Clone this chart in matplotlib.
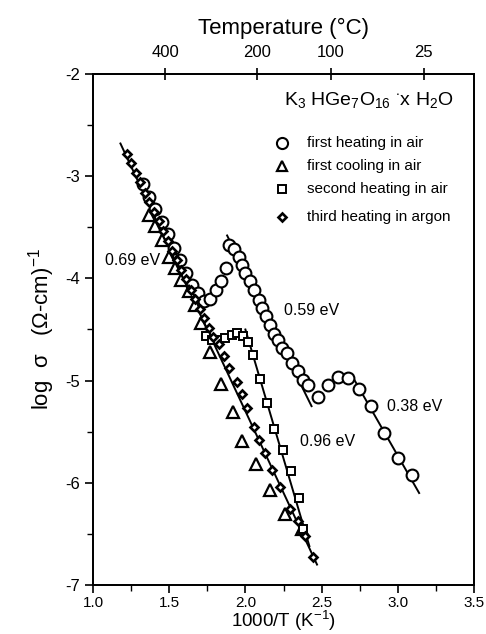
import matplotlib
matplotlib.use("Agg")
import matplotlib.pyplot as plt

plt.rcParams['font.family'] = ['Liberation Sans', 'DejaVu Sans']
plt.rcParams['mathtext.fontset'] = 'custom'
plt.rcParams['mathtext.rm'] = 'Liberation Sans'
plt.rcParams['mathtext.it'] = 'Liberation Sans:italic'

# first heating in air (circles)
heat1_x = [1.33, 1.37, 1.41, 1.45, 1.49, 1.53, 1.57, 1.61, 1.65, 1.69, 1.73, 1.77,
           1.805, 1.84, 1.87, 1.89, 1.925, 1.957, 1.979, 2.00, 2.033, 2.055, 2.087,
           2.109, 2.135, 2.163, 2.185, 2.217, 2.239, 2.271, 2.304, 2.348, 2.38, 2.413,
           2.478, 2.543, 2.608, 2.673, 2.743, 2.825, 2.908, 3.00, 3.096]
heat1_y = [-3.08, -3.20, -3.32, -3.45, -3.57, -3.70, -3.82, -3.95, -4.06, -4.14, -4.22, -4.20,
           -4.11, -4.03, -3.90, -3.67, -3.71, -3.79, -3.87, -3.95, -4.03, -4.11, -4.21,
           -4.29, -4.37, -4.46, -4.54, -4.60, -4.68, -4.73, -4.83, -4.91, -4.99, -5.04,
           -5.16, -5.04, -4.96, -4.97, -5.08, -5.25, -5.51, -5.76, -5.92]

# first cooling in air (triangles)
cool1_x = [1.37, 1.41, 1.45, 1.50, 1.54, 1.58, 1.63, 1.67, 1.71, 1.77, 1.84, 1.92,
           1.98, 2.07, 2.16, 2.26, 2.37]
cool1_y = [-3.38, -3.49, -3.62, -3.79, -3.90, -4.02, -4.12, -4.26, -4.44, -4.72, -5.03, -5.31,
           -5.59, -5.82, -6.07, -6.31, -6.45]

# second heating in air (squares)
heat2_x = [1.74, 1.78, 1.822, 1.865, 1.909, 1.946, 1.985, 2.018, 2.048, 2.098, 2.141,
           2.189, 2.246, 2.30, 2.352, 2.38]
heat2_y = [-4.56, -4.60, -4.60, -4.58, -4.55, -4.53, -4.56, -4.62, -4.75, -4.98, -5.22,
           -5.47, -5.68, -5.88, -6.15, -6.45]

# third heating in argon (diamonds)
heat3_x = [1.22, 1.25, 1.28, 1.31, 1.34, 1.37, 1.40, 1.43, 1.46, 1.49, 1.52, 1.55, 1.58,
           1.61, 1.64, 1.67, 1.70, 1.73, 1.76, 1.79, 1.827, 1.859, 1.892, 1.946, 1.979,
           2.011, 2.055, 2.087, 2.131, 2.174, 2.228, 2.293, 2.343, 2.39, 2.445]
heat3_y = [-2.78, -2.87, -2.97, -3.06, -3.16, -3.25, -3.35, -3.44, -3.54, -3.63, -3.73, -3.82, -3.92,
           -4.01, -4.11, -4.20, -4.30, -4.39, -4.49, -4.57, -4.64, -4.76, -4.88, -5.01, -5.13,
           -5.27, -5.45, -5.58, -5.71, -5.87, -6.04, -6.26, -6.37, -6.52, -6.73]

# fitted lines (end points) and activation energies
fit_labels = ['0.69 eV', '0.59 eV', '0.38 eV', '0.96 eV']
fit_x = [[1.18, 2.47], [1.88, 2.434], [2.71, 3.14], [2.0, 2.42]]
fit_y = [[-2.68, -6.80], [-3.58, -5.25], [-4.98, -6.10], [-4.50, -6.62]]
label_x = [1.08, 2.25, 2.93, 2.36]
label_y = [-3.82, -4.31, -5.25, -5.60]

top_ticks = [1.473, 2.074, 2.56, 3.17]
top_labels = ['400', '200', '100', '25']

legend_names = ['first heating in air', 'first cooling in air',
                'second heating in air', 'third heating in argon']
legend_y = [-2.675, -2.90, -3.125, -3.40]

fig = plt.figure(figsize=(4.86, 6.34), dpi=100)
ax = fig.add_axes([93/486, 1 - 585/634, 381/486, 511/634])

ms_style = dict(linestyle='none', color='black', markerfacecolor='white')
for xs, ys in zip(fit_x, fit_y):
    ax.plot(xs, ys, color='black', lw=1.4, zorder=2)
ax.plot(heat1_x, heat1_y, marker='o', ms=8.5, mew=1.5, zorder=3, **ms_style)
ax.plot(cool1_x, cool1_y, marker='^', ms=8, mew=1.6, zorder=3, **ms_style)
ax.plot(heat2_x, heat2_y, marker='s', ms=5.5, mew=1.4, zorder=4, **ms_style)
ax.plot(heat3_x, heat3_y, marker='D', ms=4.2, mew=1.9, zorder=5, **ms_style)

for t, lx, ly in zip(fit_labels, label_x, label_y):
    ax.text(lx, ly, t, fontsize=11.5, va='center', ha='left')

# legend drawn by hand, as in the original
ax.text(2.25, -2.25, r'K$_3$ HGe$_7$O$_{16}$ $^{\bullet}$x H$_2$O', fontsize=14,
        va='center', ha='left')
leg_markers = [dict(marker='o', ms=8, mew=1.5), dict(marker='^', ms=7.5, mew=1.6),
               dict(marker='s', ms=5.5, mew=1.4), dict(marker='D', ms=4.2, mew=1.9)]
for name, ly, mk in zip(legend_names, legend_y, leg_markers):
    ax.plot([2.243], [ly], **mk, **ms_style)
    ax.text(2.406, ly, name, fontsize=11, va='center', ha='left')

ax.set_xlim(1.0, 3.5)
ax.set_ylim(-7, -2)
ax.set_xticks([1.0, 1.5, 2.0, 2.5, 3.0, 3.5])
ax.set_xticks([1.25, 1.75, 2.25, 2.75, 3.25], minor=True)
ax.set_yticks([-7, -6, -5, -4, -3, -2])
ax.set_yticks([-6.5, -5.5, -4.5, -3.5, -2.5], minor=True)
ax.set_xticklabels(['1.0', '1.5', '2.0', '2.5', '3.0', '3.5'])
ax.set_yticklabels(['-7', '-6', '-5', '-4', '-3', '-2'])
ax.tick_params(axis='both', which='major', direction='out', length=6, width=1.2,
               labelsize=12)
ax.tick_params(axis='x', which='major', pad=2, labelsize=11)
ax.tick_params(axis='both', which='minor', direction='out', length=4, width=1.0)
for s in ax.spines.values():
    s.set_linewidth(1.3)

ax.set_xlabel(r'1000/T (K$^{-1}$)', fontsize=13.5, labelpad=-1)
ax.set_ylabel(r'log  $\mathrm{\sigma}$   ($\Omega$-cm)$^{-1}$', fontsize=16, labelpad=6)

ax2 = ax.twiny()
ax2.set_xlim(ax.get_xlim())
ax2.set_xticks(top_ticks)
ax2.set_xticklabels(top_labels)
ax2.tick_params(axis='x', direction='inout', length=8, width=1.2, labelsize=12, pad=6)
ax2.set_xlabel('Temperature (°C)', fontsize=16, labelpad=8)
for s in ax2.spines.values():
    s.set_linewidth(1.3)

fig.savefig('out.png', dpi=100)
